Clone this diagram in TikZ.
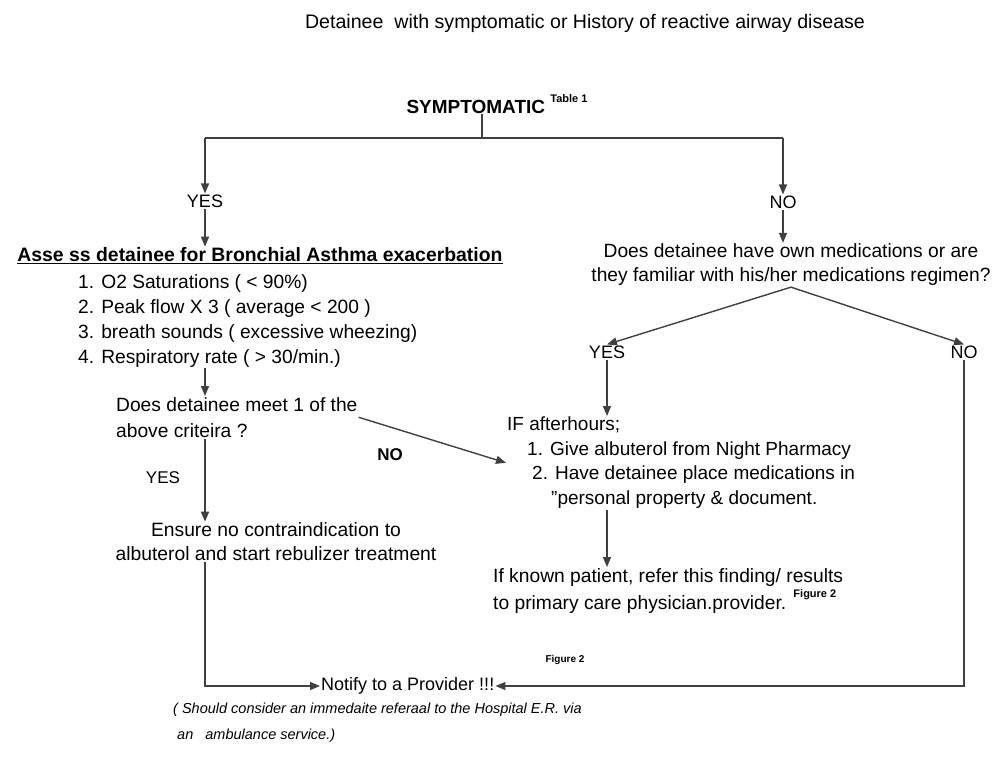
\documentclass[tikz,border=0pt]{standalone}
\usepackage{fontspec}
\setmainfont{Liberation Sans}
\usetikzlibrary{arrows.meta}
\newcommand{\supnote}[1]{\raisebox{1.1ex}{\fontsize{11}{11}\selectfont\bfseries #1}}
\begin{document}
\begin{tikzpicture}[x=1pt,y=-1pt, every node/.style={font=\fontsize{18}{25}\selectfont,inner sep=1pt}]
  \tikzstyle{arr}=[-{Triangle[length=10pt,width=8pt]},line width=1.4pt,draw=black!75]
  \tikzstyle{ln}=[line width=1.4pt,draw=black!75]
  \tikzstyle{txt}=[align=left,anchor=north west]
  \useasboundingbox (0,0) rectangle (1002,772);
  % top
  \node[font=\fontsize{19.6}{22}\selectfont] (title) at (585,23) {Detainee\ \ with symptomatic or History of reactive airway disease};
  \node[font=\fontsize{19}{22}\selectfont\bfseries,inner sep=0pt] (symp) at (497,104) {SYMPTOMATIC \supnote{Table 1}};
  \coordinate (splitL) at (205,138);
  \coordinate (splitM) at (482,138);
  \coordinate (splitR) at (783,138);
  \node (yesL) at (205,201) {YES};
  \node (noR) at (783,202) {NO};
  \draw[ln] (symp.south -| splitM) -- (splitM);
  \draw[ln] (splitL) -- (splitR);
  \draw[arr] (splitL) -- (yesL);
  \draw[arr] (splitR) -- (noR);
  % left branch
  \node[font=\fontsize{19.4}{22}\selectfont\bfseries] (assess) at (260,256) {\underline{Asse ss detainee for Bronchial Asthma exacerbation}};
  \draw[arr] (yesL) -- (assess.north -| yesL);
  \node[txt,font=\fontsize{19.2}{25}\selectfont] (crit) at (77,273) {1. O2 Saturations ( < 90\%)\\2. Peak flow X 3 ( average < 200 )\\3. breath sounds ( excessive wheezing)\\4. Respiratory rate ( > 30/min.)};
  \node[txt,font=\fontsize{19.2}{26}\selectfont] (meet) at (115,396) {Does detainee meet 1 of the\\above criteira ?};
  \draw[arr] (crit.south -| yesL) -- (meet.north -| yesL);
  \node[font=\fontsize{17}{18}\selectfont\bfseries] (noM) at (390,455) {NO};
  \node[font=\fontsize{17}{18}\selectfont] (yesM) at (163,478) {YES};
  \node[align=center,font=\fontsize{19.3}{24}\selectfont] (ensure) at (276,542) {Ensure no contraindication to\\albuterol and start rebulizer treatment};
  \draw[arr] (meet.south -| yesL) -- (ensure.north -| yesL);
  % right branch
  \node[align=center,font=\fontsize{19.2}{24}\selectfont] (own) at (791,265) {Does detainee have own medications or are\\they familiar with his/her medications regimen?};
  \draw[arr] (noR) -- (own.north -| noR);
  \node (yesR) at (607,352) {YES};
  \node (noR2) at (964,352) {NO};
  \draw[arr] (own.south) -- (yesR.north);
  \draw[arr] (own.south) -- (noR2.north);
  \node[txt,font=\fontsize{19}{24.5}\selectfont] (ifah) at (506,416) {IF afterhours;\\\hspace*{20pt}1. Give albuterol from Night Pharmacy\\\hspace*{25pt}2. Have detainee place medications in\\\hspace*{44pt}"personal property \& document.};
  \draw[arr] (yesR) -- (ifah.north -| yesR);
  \draw[arr] (meet.east) -- (ifah.west);
  \node[txt,font=\fontsize{19.25}{27}\selectfont] (known) at (492,567) {If known patient, refer this finding/ results\\to primary care physician.provider. \supnote{Figure 2}};
  \draw[arr] (ifah.south -| yesR) -- (known.north -| yesR);
  \node[font=\fontsize{10}{10}\selectfont\bfseries] (fig) at (565,660) {Figure 2};
  % bottom
  \node[anchor=west] (notify) at (320,686) {Notify to a Provider !!!};
  \node[txt,font=\fontsize{14.5}{26}\selectfont\itshape] (hosp) at (172,702) {( Should consider an immedaite referaal to the Hospital E.R. via\\\ an\ \ \ ambulance service.)};
  \draw[arr] (ensure.south -| yesL) |- (notify.west);
  \draw[arr] (noR2.south) |- (notify.east);
\end{tikzpicture}
\end{document}
